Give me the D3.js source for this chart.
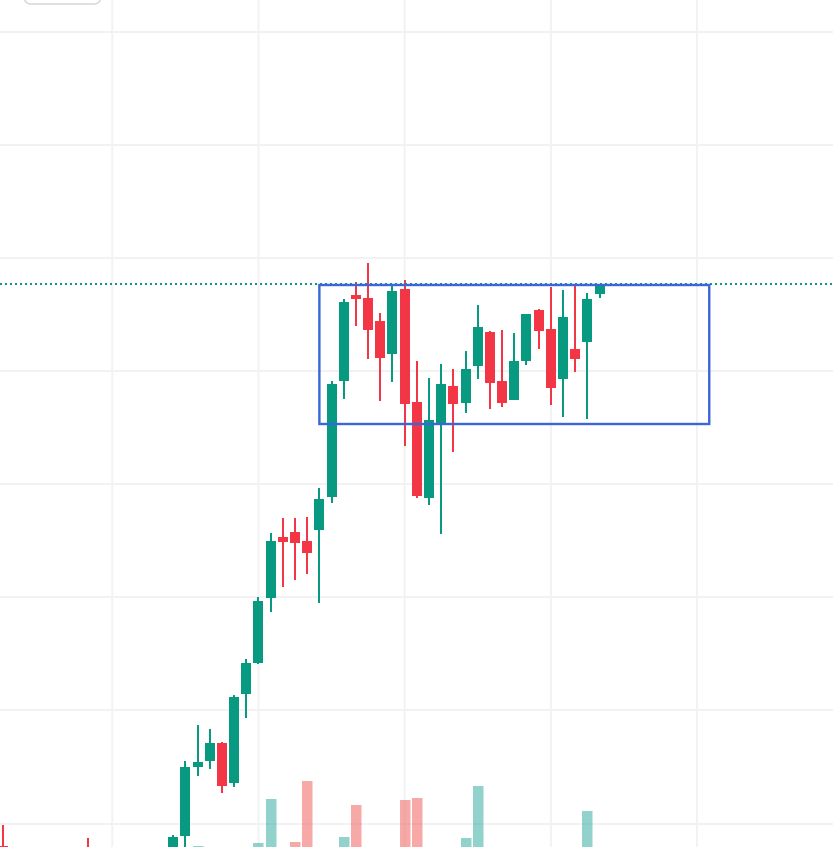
<!DOCTYPE html>
<html><head><meta charset="utf-8">
<script src="https://cdn.jsdelivr.net/npm/d3@7"></script>
<style>html,body{margin:0;padding:0;background:#fff;overflow:hidden}svg{display:block}</style>
</head><body><svg id="c" width="833" height="847"></svg>
<script>
const barIndex=[0,7,14,15,16,17,18,19,20,21,22,23,24,25,26,27,28,29,30,31,32,33,34,35,36,37,38,39,40,41,42,43,44,45,46,47,48,49];
const opens =[0.1,-0.2,-0.5,1.1,8.0,8.6,10.4,6.4,15.3,18.4,24.9,31.0,31.5,30.6,31.7,35.0,46.6,55.2,54.9,52.6,49.3,55.8,44.5,34.9,42.3,46.1,44.4,48.1,51.5,46.6,44.7,48.6,53.7,51.8,46.8,49.8,50.5,55.3];
const closes=[-0.5,-0.6,1.0,8.0,8.5,10.4,6.1,15.0,18.4,24.6,30.6,30.5,30.4,29.4,34.8,46.3,54.5,54.8,51.7,48.9,55.6,44.3,35.1,42.7,46.3,44.3,47.8,52.0,46.4,44.4,48.6,53.3,51.6,45.9,53.0,48.8,54.8,56.25];
const highs =[2.2,0.9,1.2,8.6,12.2,11.8,10.5,15.2,18.8,25.0,31.4,32.9,32.9,33.0,35.9,46.6,54.8,56.5,58.4,53.4,56.2,56.7,48.6,46.9,48.3,47.8,49.6,54.2,51.6,51.7,51.4,53.3,53.8,56.0,55.7,56.3,55.4,56.3];
const lows  =[-1,-1,-1,-0.5,7.1,7.8,5.4,6.0,12.9,18.3,23.5,26.0,26.7,27.3,24.4,34.4,44.8,52.1,48.8,44.6,46.5,40.1,34.9,34.2,31.3,39.5,43.4,46.8,43.8,44.0,44.7,48.2,49.8,44.2,43.0,47.5,42.8,54.9];
const volumeIndex=[16,21,22,24,25,28,29,33,34,38,39,48];
const volumes=[14,17,61,18,79,23,55,60,62,22,74,49];
const volumeUp=[true,true,true,false,false,true,false,false,false,true,true,true];
const priceTicks=[2.3,13.7,25,36.3,47.6,58.9,70.2,81.5];
const timeTicks=[9,21,33,45,57];
const lastPrice=56.3;
const boxStart=26, boxEnd=58, boxTop=56.2, boxBottom=42.3;

const UP="#089981", DOWN="#F23645", VUP="#26a69a", VDOWN="#ef5350", GRID="#f2f2f4", BOX="#3a66d8";
const W=833,H=847;
const x=d3.scaleLinear().domain([0,49]).range([2.6,599.6]);
const y=d3.scaleLinear().domain([0,84.7]).range([847,0]);
const v=d3.scaleLinear().domain([0,100]).range([860,760]);
const svg=d3.select("#c");

const grid=svg.append("g").attr("stroke",GRID).attr("stroke-width",2);
grid.selectAll(".h").data(priceTicks).join("line").attr("x1",0).attr("x2",W).attr("y1",d=>y(d)).attr("y2",d=>y(d));
grid.selectAll(".v").data(timeTicks).join("line").attr("y1",0).attr("y2",H).attr("x1",d=>x(d)).attr("x2",d=>x(d));

svg.append("rect").attr("x",24.5).attr("y",-20).attr("width",76).attr("height",24).attr("rx",6)
  .attr("fill","#fff").attr("stroke","#d6d6d6").attr("stroke-width",1.5);

svg.append("g").selectAll("rect").data(volumeIndex).join("rect")
  .attr("x",d=>Math.round(x(d))-5).attr("width",10.5)
  .attr("y",(d,i)=>v(volumes[i])).attr("height",(d,i)=>Math.max(0,v(0)-v(volumes[i])))
  .attr("fill",(d,i)=>volumeUp[i]?VUP:VDOWN).attr("fill-opacity",0.5);

const color=i=>closes[i]>=opens[i]?UP:DOWN;
svg.append("g").selectAll("line").data(barIndex).join("line")
  .attr("x1",d=>Math.round(x(d))).attr("x2",d=>Math.round(x(d)))
  .attr("y1",(d,i)=>y(highs[i])).attr("y2",(d,i)=>y(lows[i]))
  .attr("stroke",(d,i)=>color(i)).attr("stroke-width",2).attr("shape-rendering","crispEdges");
svg.append("g").selectAll("rect").data(barIndex).join("rect")
  .attr("x",d=>Math.round(x(d))-5).attr("width",10)
  .attr("y",(d,i)=>y(Math.max(opens[i],closes[i])))
  .attr("height",(d,i)=>Math.abs(y(opens[i])-y(closes[i])))
  .attr("fill",(d,i)=>color(i)).attr("shape-rendering","crispEdges");

svg.append("line").attr("x1",0).attr("x2",W).attr("y1",y(lastPrice)).attr("y2",y(lastPrice))
  .attr("stroke",UP).attr("stroke-width",2).attr("stroke-dasharray","2 3");

svg.append("rect").attr("x",x(boxStart)).attr("y",y(boxTop))
  .attr("width",x(boxEnd)-x(boxStart)).attr("height",y(boxBottom)-y(boxTop))
  .attr("fill","none").attr("stroke",BOX).attr("stroke-width",2.4);
</script></body></html>
